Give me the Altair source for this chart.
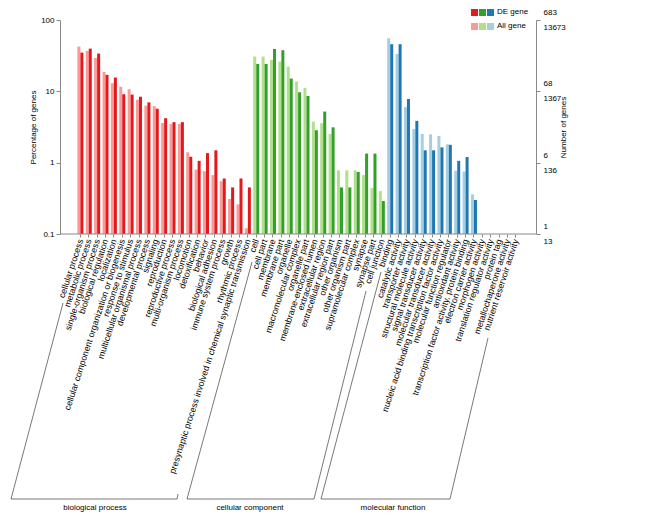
import altair as alt
import pandas as pd

bp_terms = ["cellular process", "metabolic process", "single-organism process", "biological regulation",
            "localization", "cellular component organization or biogenesis", "response to stimulus",
            "multicellular organismal process", "developmental process", "signaling", "reproduction",
            "reproductive process", "multi-organism process", "locomotion", "detoxification", "behavior",
            "biological adhesion", "immune system process", "growth", "rhythmic process",
            "presynaptic process involved in chemical synaptic transmission"]
bp_all = [42.4, 36.9, 29.4, 18.7, 13.0, 11.6, 10.7, 7.6, 6.3, 6.2, 3.6, 3.5, 3.5, 1.40, 0.80, 0.76,
          0.67, 0.55, 0.31, 0.26, 0.12]
bp_de = [34.9, 39.7, 33.8, 17.0, 15.6, 9.1, 9.0, 8.4, 7.0, 5.7, 4.2, 3.7, 3.7, 1.21, 1.06, 1.36,
         1.49, 0.60, 0.45, 0.60, 0.45]

cc_terms = ["cell", "cell part", "membrane", "membrane part", "organelle", "macromolecular complex",
            "organelle part", "membrane-enclosed lumen", "extracellular region", "extracellular region part",
            "other organism", "other organism part", "supramolecular complex", "synapse", "synapse part",
            "cell junction"]
cc_all = [30.7, 30.7, 27.6, 26.1, 22.2, 13.7, 11.2, 3.76, 3.57, 2.53, 0.78, 0.78, 0.78, 0.67, 0.44, 0.40]
cc_de = [24.2, 24.2, 39.3, 37.7, 15.1, 9.7, 8.6, 2.85, 5.2, 3.13, 0.45, 0.45, 0.74, 1.34, 1.34, 0.29]

mf_terms = ["binding", "catalytic activity", "transporter activity", "structural molecule activity",
            "signal transducer activity", "molecular transducer activity",
            "nucleic acid binding transcription factor activity", "molecular function regulator",
            "antioxidant activity", "transcription factor activity, protein binding",
            "electron carrier activity", "morphogen activity", "translation regulator activity",
            "protein tag", "metallochaperone activity", "nutrient reservoir activity"]
mf_all = [55.5, 33.5, 6.0, 2.97, 2.53, 2.5, 2.37, 1.81, 0.77, 0.75, 0.36, None, None, None, None, None]
mf_de = [45.8, 45.8, 7.8, 3.85, 1.49, 1.49, 1.64, 1.78, 1.06, 1.20, 0.30, None, None, None, None, None]

group_names = ["biological process", "cellular component", "molecular function"]
color_keys = ["BP-All gene", "BP-DE gene", "CC-All gene", "CC-DE gene", "MF-All gene", "MF-DE gene"]
color_vals = ["#FB9A99", "#E31A1C", "#B2DF8A", "#33A02C", "#A6CEE3", "#1F78B4"]

left_ticks = [0.1, 1, 10, 100]
right_de_labels = ["1", "6", "68", "683"]
right_all_labels = ["13", "136", "1367", "13673"]

rows = []
for g, terms, alls, des in [("BP", bp_terms, bp_all, bp_de), ("CC", cc_terms, cc_all, cc_de),
                            ("MF", mf_terms, mf_all, mf_de)]:
    for t, a, d in zip(terms, alls, des):
        rows.append({"term": t, "gene": "All gene", "key": g + "-All gene", "pct": a})
        rows.append({"term": t, "gene": "DE gene", "key": g + "-DE gene", "pct": d})
df = pd.DataFrame(rows)
df = df[df["pct"].notna()]
order = bp_terms + cc_terms + mf_terms

W, H = 476, 214
FONT = "Liberation Sans"
GRAY = "#888888"

xenc = alt.X("term:N", sort=order,
             scale=alt.Scale(domain=order, range=[16.2, 460], paddingInner=0.28, paddingOuter=0.14),
             axis=alt.Axis(title=None, labelAngle=288, labelAlign="right", labelBaseline="middle",
                           labelFontSize=8.8, labelFont=FONT, labelLimit=400, labelPadding=2,
                           tickSize=3, domain=False, tickColor=GRAY,
                           labelColor="black", labelOverlap=False))
yscale = alt.Scale(type="log", domain=[0.1, 100])
color = alt.Color("key:N", scale=alt.Scale(domain=color_keys, range=color_vals), legend=None)

bars = alt.Chart(df).mark_bar(clip=True).encode(
    x=xenc,
    xOffset=alt.XOffset("gene:N", sort=["All gene", "DE gene"]),
    y=alt.Y("pct:Q", scale=yscale,
            axis=alt.Axis(title="Percentage of genes", values=left_ticks, format="~g", grid=False,
                          labelFontSize=8, labelFont=FONT, labelColor="black", titleFontSize=8,
                          titleFont=FONT, titleFontWeight="normal", titleColor="black",
                          domainColor=GRAY, tickColor=GRAY, tickSize=4, labelPadding=2,
                          titlePadding=3)),
    y2=alt.datum(0.1),
    color=color,
)

expr = ""
for v, a, b in zip(left_ticks, right_de_labels, right_all_labels):
    expr += f"datum.value == {v} ? ['{a}', '{b}'] : "
expr += "''"

right = alt.Chart(df).mark_bar(opacity=0).encode(
    x=xenc,
    xOffset=alt.XOffset("gene:N", sort=["All gene", "DE gene"]),
    y=alt.Y("pct:Q", scale=yscale,
            axis=alt.Axis(orient="right", title="Number of genes", values=left_ticks, labelExpr=expr,
                          grid=False, labelFontSize=8, labelFont=FONT, labelColor="black",
                          labelLineHeight=15, labelAlign="left", labelBaseline="middle",
                          labelOffset=-7.5,
                          titleFontSize=8, titleFont=FONT, titleFontWeight="normal",
                          titleColor="black", titleAngle=270, domainColor=GRAY,
                          tickColor=GRAY, tickSize=4, labelPadding=3, titlePadding=2)),
    y2=alt.datum(0.1),
)

one = pd.DataFrame({"a": [0]})
deco = [alt.Chart(one).mark_rule(color=GRAY, strokeWidth=1).encode(
    x=alt.value(0), x2=alt.value(W), y=alt.value(H))]
# legend squares
for i in range(3):
    deco.append(alt.Chart(one).mark_rect().encode(
        x=alt.value(411 + 8 * i), x2=alt.value(418 + 8 * i), y=alt.value(-11), y2=alt.value(-4),
        color=alt.value(color_vals[2 * i + 1])))
    deco.append(alt.Chart(one).mark_rect().encode(
        x=alt.value(411 + 8 * i), x2=alt.value(418 + 8 * i), y=alt.value(3), y2=alt.value(10),
        color=alt.value(color_vals[2 * i])))
deco.append(alt.Chart(one).mark_text(align="left", baseline="middle", fontSize=8, font=FONT).encode(
    x=alt.value(437), y=alt.value(-8), text=alt.value("DE gene")))
deco.append(alt.Chart(one).mark_text(align="left", baseline="middle", fontSize=8, font=FONT).encode(
    x=alt.value(437), y=alt.value(6), text=alt.value("All gene")))

# bracket lines
segs = [(-49, 479, 117, 479), (-49, 479, 3, 283), (117, 479, 118, 474),
        (127, 479, 254, 479), (127, 479, 192, 242), (254, 479, 306, 271),
        (261, 479, 321, 252), (261, 479, 390, 479), (390, 479, 428, 318)]
for x1, y1, x2, y2 in segs:
    deco.append(alt.Chart(one).mark_rule(color="#555555", strokeWidth=0.8).encode(
        x=alt.value(x1), y=alt.value(y1), x2=alt.value(x2), y2=alt.value(y2)))
for name, cx in zip(group_names, [35, 190, 333]):
    deco.append(alt.Chart(one).mark_text(align="center", baseline="middle", fontSize=8, font=FONT).encode(
        x=alt.value(cx), y=alt.value(488), text=alt.value(name)))

chart = alt.layer(bars, right, *deco).resolve_scale(y="independent").properties(
    width=W, height=H,
    autosize=alt.AutoSizeParams(type="none"),
    padding={"left": 52, "top": 12, "right": 125, "bottom": 278},
).configure_view(strokeWidth=0)

chart.save("out.html", embed_options={"renderer": "svg", "actions": False})
